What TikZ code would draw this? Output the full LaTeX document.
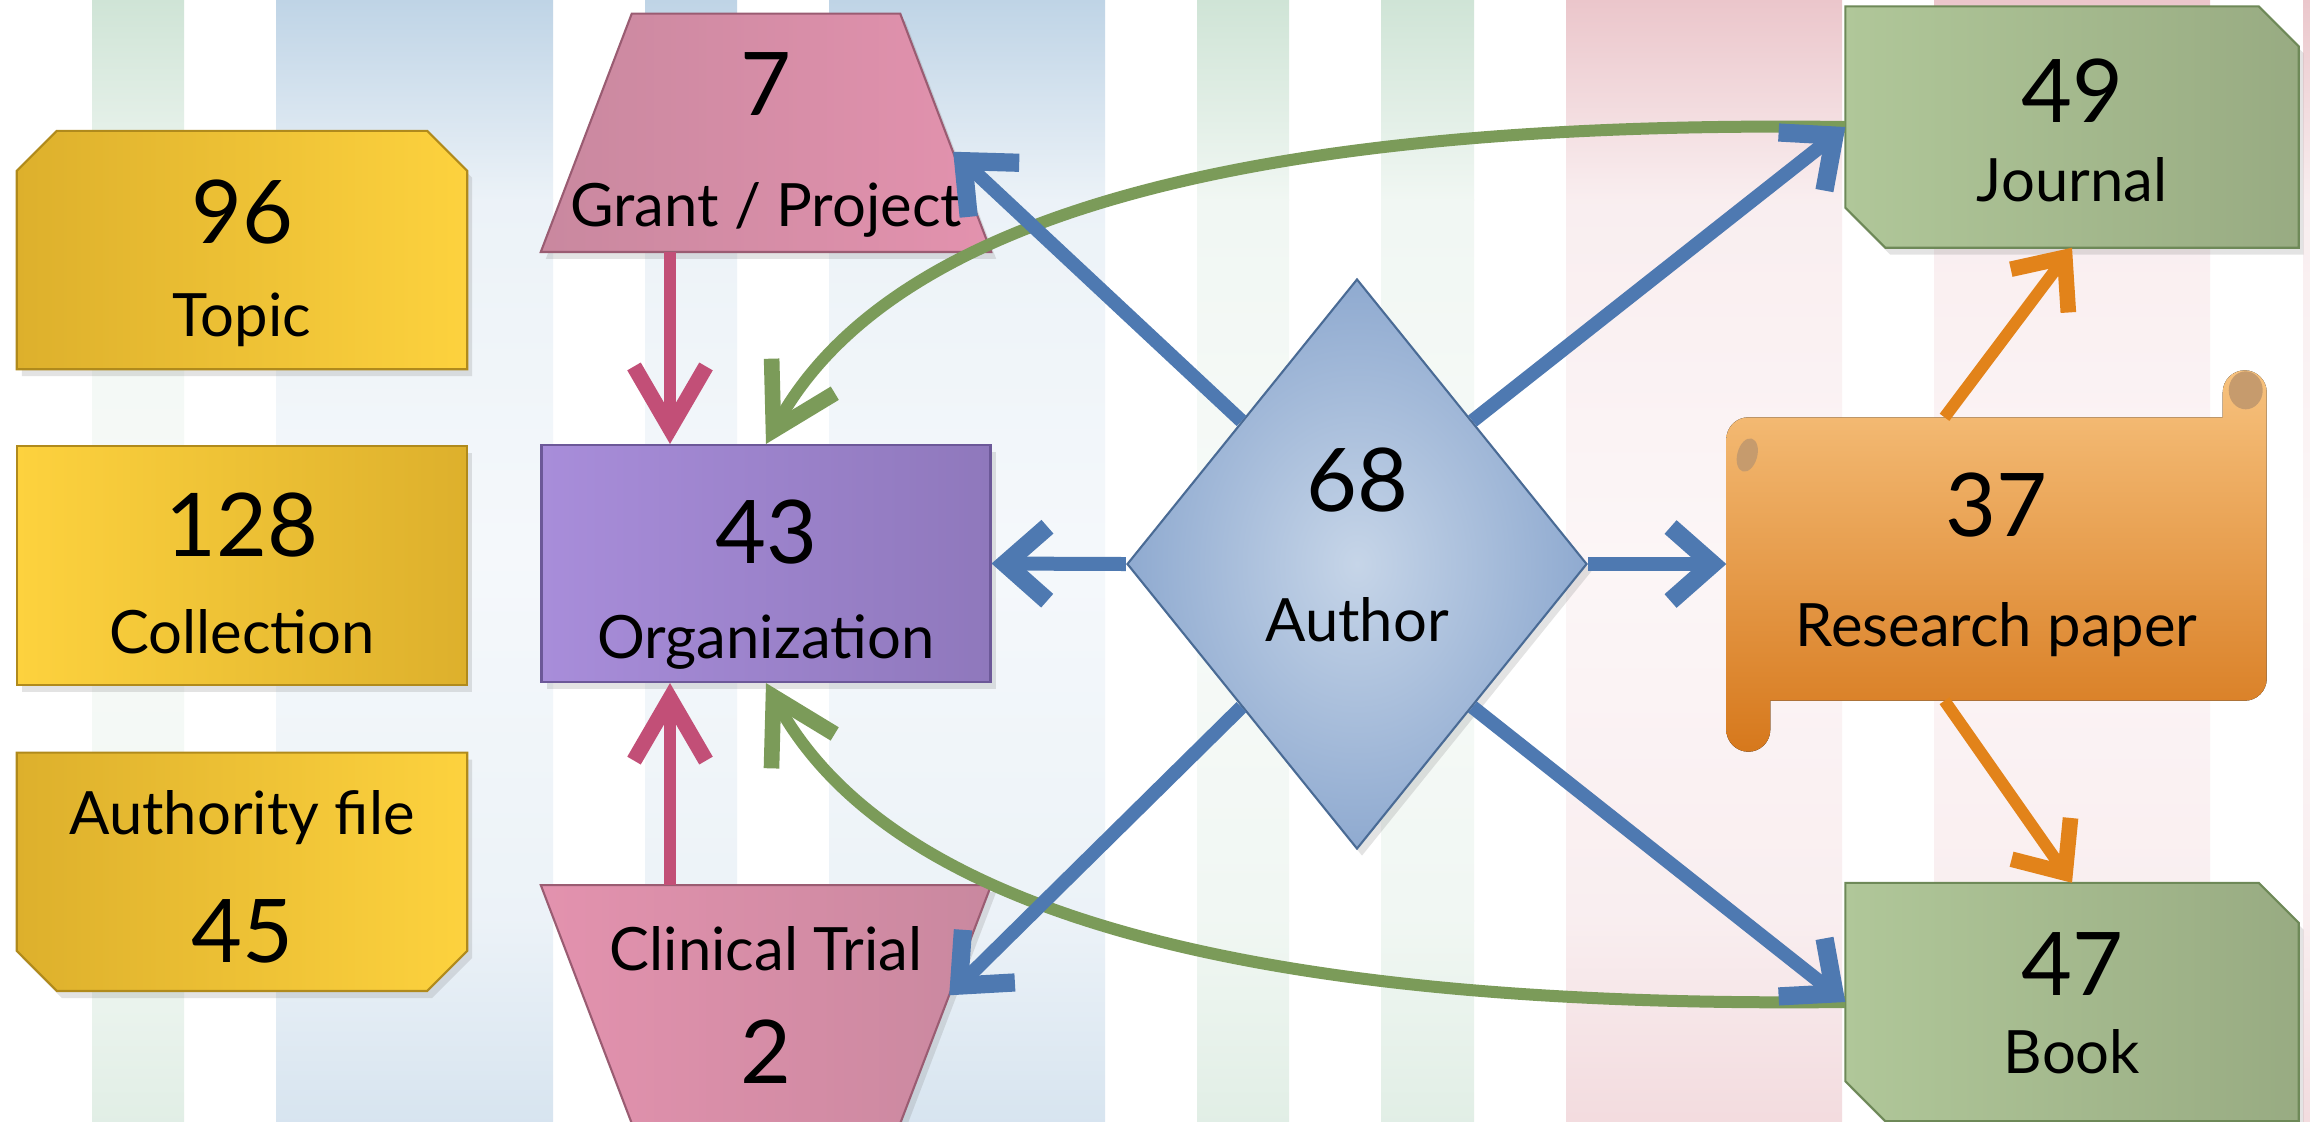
\documentclass[tikz,border=0pt]{standalone}
\usepackage{fontspec}
\setmainfont{Lato}
\usetikzlibrary{positioning, arrows.meta, shapes.geometric, shadows, calc}

\definecolor{stripeG}{HTML}{CFE4D6}
\definecolor{stripeB}{HTML}{BFD4E6}
\definecolor{stripeR}{HTML}{EBC6CB}
\definecolor{goldA}{HTML}{DDB02C}
\definecolor{goldB}{HTML}{FDD23E}
\definecolor{goldLine}{HTML}{B08A1C}
\definecolor{pinkA}{HTML}{C9889F}
\definecolor{pinkB}{HTML}{E392AE}
\definecolor{pinkLine}{HTML}{9A5C72}
\definecolor{orgA}{HTML}{A88DDA}
\definecolor{orgB}{HTML}{8F78BC}
\definecolor{orgLine}{HTML}{6C5898}
\definecolor{authIn}{HTML}{C6D5E8}
\definecolor{authMid}{HTML}{8FAAD0}
\definecolor{authOut}{HTML}{5C7FAC}
\definecolor{authLine}{HTML}{4A6B95}
\definecolor{pubA}{HTML}{B0C799}
\definecolor{pubB}{HTML}{98AB82}
\definecolor{pubLine}{HTML}{6E8958}
\definecolor{paperA}{HTML}{F7C27E}
\definecolor{paperB}{HTML}{D6781C}
\definecolor{paperCurl}{HTML}{C69B6D}
\definecolor{linkBlue}{HTML}{4E79B1}
\definecolor{linkPink}{HTML}{C24F77}
\definecolor{linkOrange}{HTML}{E2831A}
\definecolor{linkGreen}{HTML}{7B9B59}

\pgfdeclareradialshading{authorglow}{\pgfpoint{0bp}{0bp}}{color(0bp)=(authIn); color(25bp)=(authMid); color(50bp)=(authOut)}

\begin{document}
\begin{tikzpicture}[
    x=0.1mm, y=-0.1mm,
    num/.style={font=\fontsize{25}{30}\selectfont, anchor=base, inner sep=0pt},
    lbl/.style={font=\fontsize{17}{21}\selectfont, anchor=base, inner sep=0pt},
    boxshadow/.style={drop shadow={opacity=0.22, shadow xshift=0.5mm, shadow yshift=-0.7mm}},
    frame/.style={rectangle, inner sep=0pt, minimum width=44.9mm, minimum height=23.7mm},
    goldshape/.style={draw=goldLine, line width=0.6pt, boxshadow},
    pinkshape/.style={draw=pinkLine, line width=0.6pt, boxshadow},
    pubshape/.style={draw=pubLine, line width=0.6pt, left color=pubA, right color=pubB, boxshadow},
    orgbox/.style={
        frame, draw=orgLine, line width=0.6pt,
        left color=orgA, right color=orgB, boxshadow
    },
    authorbox/.style={
        diamond, draw=authLine, line width=0.6pt,
        shading=authorglow,
        minimum width=46mm, minimum height=57mm,
        inner sep=0pt, boxshadow
    },
    paperbox/.style={rectangle, minimum width=53.9mm, minimum height=28.2mm, inner sep=0pt},
    authorlink/.style={draw=linkBlue, line width=1.4mm,
        -{Straight Barb[length=4.2mm, width=7.4mm, line width=0pt 1.3]}},
    fundlink/.style={draw=linkPink, line width=1.2mm,
        -{Straight Barb[length=6.2mm, width=7.2mm, line width=0pt 1.3]}},
    paperlink/.style={draw=linkOrange, line width=1.2mm,
        -{Straight Barb[length=4.2mm, width=7.2mm, line width=0pt 1.3]}},
    citelink/.style={draw=linkGreen, line width=1.2mm,
        -{Straight Barb[length=6.2mm, width=7.2mm, line width=0pt 1.3]}}
]

\useasboundingbox (0,0) rectangle (2310,1121);
\fill[white] (0,0) rectangle (2310,1121);

% ===================== BACKGROUND STRIPES =====================
\foreach \xa/\xb/\col in {92/184/stripeG, 276/553/stripeB, 645/737/stripeB,
    829/1105/stripeB, 1197/1289/stripeG, 1381/1474/stripeG,
    1566/1842/stripeR, 1934/2210/stripeR, 2303/2310/stripeR}
{
  \fill[top color=\col, bottom color=\col!30!white] (\xa,0) rectangle (\xb,200);
  \fill[top color=\col!30!white, bottom color=\col!30!white, middle color=\col!16!white]
    (\xa,199) rectangle (\xb,921);
  \fill[top color=\col!30!white, bottom color=\col!62!white] (\xa,920) rectangle (\xb,1121);
}

% ===================== LEFT COLUMN =====================
\node[frame] (topic) at (242,250) {};
\node[frame, below=7.7mm of topic] (collection) {};
\node[frame, below=6.8mm of collection] (authority) {};

\filldraw[goldshape, left color=goldA, right color=goldB]
  (topic.south west) -- ($(topic.north west)+(0,40)$) -- ($(topic.north west)+(40,0)$)
  -- ($(topic.north east)+(-40,0)$) -- ($(topic.north east)+(0,40)$) -- (topic.south east) -- cycle;
\filldraw[goldshape, left color=goldB, right color=goldA]
  (collection.south west) rectangle (collection.north east);
\filldraw[goldshape, left color=goldA, right color=goldB]
  (authority.north west) -- (authority.north east) -- ($(authority.south east)+(0,-40)$)
  -- ($(authority.south east)+(-40,0)$) -- ($(authority.south west)+(40,0)$)
  -- ($(authority.south west)+(0,-40)$) -- cycle;

% ===================== ORGANIZATION COLUMN =====================
\node[orgbox] (org) at (766,563.5) {};
\node[frame, above=19.2mm of org] (grant) {};
\node[frame, below=20.2mm of org] (trial) {};

\filldraw[pinkshape, left color=pinkA, right color=pinkB]
  (grant.south west) -- (grant.south east) -- ($(grant.north east)+(-91,0)$)
  -- ($(grant.north west)+(91,0)$) -- cycle;
\filldraw[pinkshape, left color=pinkB, right color=pinkA]
  (trial.north west) -- (trial.north east) -- ($(trial.south east)+(-91,0)$)
  -- ($(trial.south west)+(91,0)$) -- cycle;

% ===================== AUTHOR AND PUBLICATIONS =====================
\node[authorbox] (author) at (1357,564) {};
\node[frame, minimum width=45.2mm, minimum height=24mm] (journal) at (2072,127) {};
\node[frame, minimum width=45.2mm] (book) at (2072,1002) {};
\node[paperbox] (paper) at (1996.5,559) {};

\filldraw[pubshape]
  (journal.north west) -- ($(journal.north east)+(-40,0)$) -- ($(journal.north east)+(0,40)$)
  -- (journal.south east) -- ($(journal.south west)+(40,0)$) -- ($(journal.south west)+(0,-40)$) -- cycle;
\filldraw[pubshape]
  (book.north west) -- ($(book.north east)+(-40,0)$) -- ($(book.north east)+(0,40)$)
  -- (book.south east) -- ($(book.south west)+(40,0)$) -- ($(book.south west)+(0,-40)$) -- cycle;

% scroll body, roll and tail
\fill[top color=paperA, bottom color=paperB, rounded corners=2.2mm]
  (paper.north west) rectangle (paper.south east)
  ($(paper.north east)+(-44,-47)$) rectangle (paper.south east)
  (paper.north west) rectangle ($(paper.south west)+(44,51)$);
\fill[paperCurl] ($(paper.north east)+(-21,-27)$) ellipse [x radius=17, y radius=19];
\fill[paperCurl, rotate around={-15:($(paper.north west)+(30,31)$)}]
  ($(paper.north west)+(30,31)$) ellipse [x radius=10, y radius=17];

% ===================== TEXTS =====================
\node[num] (topicnum) at ($(topic.north)+(0,113)$) {96};
\node[lbl] (topiclbl) at ($(topic.north)+(0,206)$) {Topic};
\node[num] (collnum) at ($(collection.north)+(0,110)$) {128};
\node[lbl] (colllbl) at ($(collection.north)+(0,207)$) {Collection};
\node[lbl] (authlbl) at ($(authority.north)+(0,82)$) {Authority file};
\node[num] (authnum) at ($(authority.north)+(0,210)$) {45};

\node[num] (grantnum) at ($(grant.north)+(0,102)$) {7};
\node[lbl] (grantlbl) at ($(grant.north)+(0,213)$) {Grant / Project};
\node[num] (orgnum) at ($(org.north)+(0,120)$) {43};
\node[lbl] (orglbl) at ($(org.north)+(0,215)$) {Organization};
\node[lbl] (triallbl) at ($(trial.north)+(0,85)$) {Clinical Trial};
\node[num] (trialnum) at ($(trial.north)+(0,198)$) {2};

\node[num] (authornum) at ($(author.center)+(0,-53)$) {68};
\node[lbl] (authorlbl) at ($(author.center)+(0,77)$) {Author};
\node[num] (journalnum) at ($(journal.north)+(0,116)$) {49};
\node[lbl] (journallbl) at ($(journal.north)+(0,195)$) {Journal};
\node[num] (papernum) at ($(paper.north)+(0,119)$) {37};
\node[lbl] (paperlbl) at ($(paper.north)+(0,229)$) {Research paper};
\node[num] (booknum) at ($(book.north)+(0,113)$) {47};
\node[lbl] (booklbl) at ($(book.north)+(0,191)$) {Book};

% ===================== CONNECTORS =====================
% citations back to the organization
\draw[citelink] (journal.west) .. controls +(-546,-7) and +(134,-245) .. (org.north);
\draw[citelink] (book.west) .. controls +(-546,6) and +(134,246) .. (org.south);

% funding into the organization
\draw[fundlink] ([xshift=-9.6mm]grant.south) -- ([xshift=-9.6mm]org.north);
\draw[fundlink] ([xshift=-9.6mm]trial.north) -- ([xshift=-9.6mm]org.south);

% research paper to its venues
\draw[paperlink] ([xshift=-5.2mm]paper.north) -- (journal.south);
\draw[paperlink] ([xshift=-5.2mm]paper.south) -- (book.north);

% author links
\draw[authorlink] (author.north west) -- ($(grant.east)+(-38,19)$);
\draw[authorlink] (author.west) -- (org.east);
\draw[authorlink] (author.south west) -- ($(trial.east)+(-42,-9)$);
\draw[authorlink] (author.north east) -- (journal.west);
\draw[authorlink] (author.east) -- (author.east -| paper.west);
\draw[authorlink] (author.south east) -- (book.west);

\end{tikzpicture}
\end{document}
